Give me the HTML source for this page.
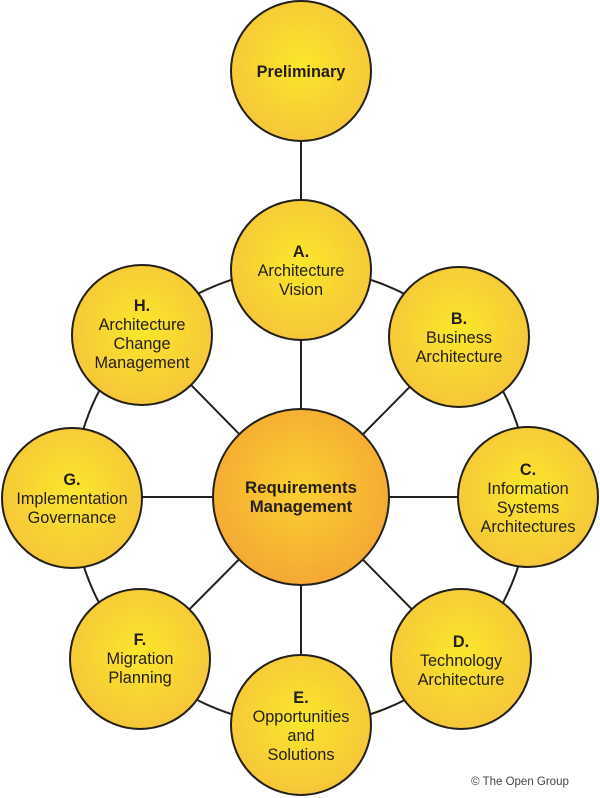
<!DOCTYPE html>
<html><head><meta charset="utf-8"><style>
html,body{margin:0;padding:0;background:#fff;}
svg{display:block;}
text{font-family:"Liberation Sans",Arial,sans-serif;fill:#231f1a;text-anchor:middle;}
</style></head><body>
<svg width="600" height="798" viewBox="0 0 600 798" xmlns="http://www.w3.org/2000/svg">
<defs>
<radialGradient id="y" cx="50%" cy="45%" r="55%">
<stop offset="0" stop-color="#fbe72a"/><stop offset="1" stop-color="#f5c63a"/></radialGradient>
<radialGradient id="o" cx="50%" cy="45%" r="55%">
<stop offset="0" stop-color="#fbd030"/><stop offset="1" stop-color="#f4a934"/></radialGradient>
</defs>
<g stroke="#231f1a" stroke-width="2" fill="none">
<circle cx="301" cy="497" r="228"/>
<line x1="301" y1="71" x2="301" y2="270"/>
<line x1="301" y1="497" x2="301" y2="270"/>
<line x1="301" y1="497" x2="459" y2="337"/>
<line x1="301" y1="497" x2="528" y2="497"/>
<line x1="301" y1="497" x2="461" y2="659"/>
<line x1="301" y1="497" x2="301" y2="725"/>
<line x1="301" y1="497" x2="140" y2="659"/>
<line x1="301" y1="497" x2="72" y2="497"/>
<line x1="301" y1="497" x2="142" y2="335"/>
</g>
<g stroke="#231f1a" stroke-width="2" fill="url(#y)">
<circle cx="301" cy="71" r="70"/>
<circle cx="301" cy="270" r="70"/>
<circle cx="459" cy="337" r="70"/>
<circle cx="528" cy="497" r="70"/>
<circle cx="461" cy="659" r="70"/>
<circle cx="301" cy="725" r="70"/>
<circle cx="140" cy="659" r="70"/>
<circle cx="72" cy="498" r="70"/>
<circle cx="142" cy="335" r="70"/>
<circle cx="301" cy="497" r="88" fill="url(#o)"/>
</g>
<g font-size="16.3">
<text x="301" y="77" font-weight="bold">Preliminary</text>
<text x="301" y="493" font-weight="bold" font-size="16.8">Requirements</text>
<text x="301" y="512" font-weight="bold" font-size="16.8">Management</text>
<text x="301" y="257"><tspan font-weight="bold">A.</tspan><tspan x="301" dy="19">Architecture</tspan><tspan x="301" dy="19">Vision</tspan></text>
<text x="459" y="324"><tspan font-weight="bold">B.</tspan><tspan x="459" dy="19">Business</tspan><tspan x="459" dy="19">Architecture</tspan></text>
<text x="528" y="475"><tspan font-weight="bold">C.</tspan><tspan x="528" dy="19">Information</tspan><tspan x="528" dy="19">Systems</tspan><tspan x="528" dy="19">Architectures</tspan></text>
<text x="461" y="647"><tspan font-weight="bold">D.</tspan><tspan x="461" dy="19">Technology</tspan><tspan x="461" dy="19">Architecture</tspan></text>
<text x="301" y="703"><tspan font-weight="bold">E.</tspan><tspan x="301" dy="19">Opportunities</tspan><tspan x="301" dy="19">and</tspan><tspan x="301" dy="19">Solutions</tspan></text>
<text x="140" y="645"><tspan font-weight="bold">F.</tspan><tspan x="140" dy="19">Migration</tspan><tspan x="140" dy="19">Planning</tspan></text>
<text x="72" y="485"><tspan font-weight="bold">G.</tspan><tspan x="72" dy="19">Implementation</tspan><tspan x="72" dy="19">Governance</tspan></text>
<text x="142" y="311"><tspan font-weight="bold">H.</tspan><tspan x="142" dy="19">Architecture</tspan><tspan x="142" dy="19">Change</tspan><tspan x="142" dy="19">Management</tspan></text>
</g>
<text x="520" y="785" font-size="11.5" style="fill:#444">© The Open Group</text>
</svg>
</body></html>
